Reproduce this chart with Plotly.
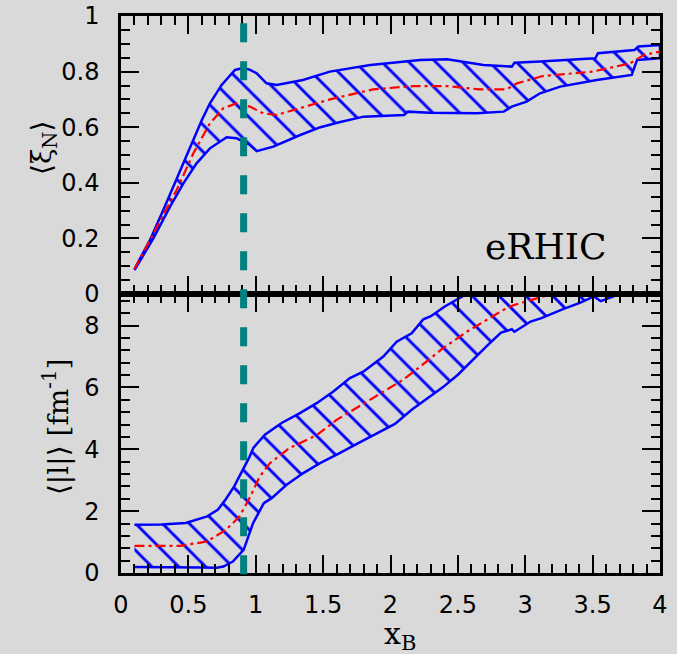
import plotly.graph_objects as go

# ---------------- data ----------------
# top panel: <xi_N> band
xi_up_x = [0.10, 0.215, 0.314, 0.40, 0.475, 0.537, 0.60, 0.66, 0.747, 0.846, 0.896, 0.95, 1.007,
           1.08, 1.155, 1.35, 1.55, 1.85, 2.22, 2.42, 2.69, 2.90, 2.92, 3.11, 3.28, 3.52, 3.54,
           3.81, 3.84, 4.00]
xi_up = [0.090, 0.194, 0.302, 0.398, 0.482, 0.554, 0.626, 0.686, 0.752, 0.806, 0.812, 0.808, 0.794,
         0.758, 0.752, 0.770, 0.800, 0.824, 0.842, 0.844, 0.824, 0.818, 0.832, 0.836, 0.842, 0.848,
         0.866, 0.878, 0.890, 0.896]
xi_lo_x = [0.10, 0.24, 0.364, 0.463, 0.561, 0.66, 0.784, 0.858, 0.957, 1.007, 1.13, 1.33, 1.48,
           1.62, 1.80, 2.10, 2.13, 2.29, 2.64, 2.84, 2.90, 3.01, 3.11, 3.26, 3.53, 3.79, 3.83, 4.00]
xi_lo = [0.086, 0.200, 0.314, 0.398, 0.470, 0.524, 0.564, 0.560, 0.536, 0.514, 0.530, 0.572, 0.600,
         0.618, 0.638, 0.644, 0.656, 0.652, 0.650, 0.656, 0.674, 0.692, 0.722, 0.746, 0.770, 0.788,
         0.842, 0.848]
xi_mid_x = [0.10, 0.265, 0.413, 0.537, 0.66, 0.759, 0.858, 0.957, 1.056, 1.155, 1.33, 1.55, 1.87,
            2.17, 2.42, 2.66, 2.86, 2.94, 3.13, 3.50, 3.78, 3.88, 4.00]
xi_mid = [0.090, 0.242, 0.374, 0.506, 0.614, 0.668, 0.686, 0.674, 0.650, 0.644, 0.668, 0.700,
          0.736, 0.748, 0.748, 0.736, 0.736, 0.758, 0.784, 0.800, 0.830, 0.860, 0.872]

# bottom panel: <|l|> [fm^-1] band
l_up_x = [0.10, 0.30, 0.48, 0.64, 0.72, 0.78, 0.84, 0.89, 0.95, 0.982, 1.068, 1.192, 1.328, 1.452,
          1.576, 1.699, 1.798, 1.947, 2.046, 2.157, 2.243, 2.30, 2.40, 2.54, 2.70, 3.00, 3.50, 4.00]
l_up = [1.56, 1.57, 1.615, 1.83, 2.05, 2.40, 2.80, 3.20, 3.72, 4.04, 4.47, 4.85, 5.17, 5.49,
        5.87, 6.30, 6.51, 7.00, 7.48, 7.75, 8.20, 8.30, 8.61, 8.96, 9.40, 10.0, 10.6, 11.0]
l_lo_x = [0.10, 0.59, 0.71, 0.76, 0.83, 0.91, 0.98, 1.06, 1.118, 1.229, 1.353, 1.477, 1.612, 1.761,
          1.898, 2.033, 2.157, 2.293, 2.39, 2.50, 2.61, 2.71, 2.82, 2.90, 2.92, 3.04, 3.12, 3.28,
          3.41, 3.51, 3.56, 3.60, 3.69, 4.00]
l_lo = [0.19, 0.18, 0.17, 0.21, 0.37, 0.75, 1.61, 2.26, 2.42, 2.85, 3.23, 3.55, 3.85, 4.20,
        4.52, 4.82, 5.28, 5.71, 6.01, 6.41, 6.89, 7.32, 7.77, 7.88, 7.80, 8.13, 8.24, 8.53,
        8.74, 8.94, 8.79, 8.85, 9.00, 9.50]
l_mid_x = [0.10, 0.44, 0.64, 0.78, 0.88, 0.957, 1.03, 1.105, 1.25, 1.328, 1.45, 1.60, 1.848, 2.095,
           2.243, 2.39, 2.57, 2.71, 2.84, 2.92, 3.18, 3.60, 4.00]
l_mid = [0.88, 0.88, 1.02, 1.40, 1.83, 2.45, 3.12, 3.55, 4.04, 4.20, 4.45, 4.95, 5.60, 6.25,
         6.75, 7.27, 7.81, 8.18, 8.51, 8.67, 9.00, 9.60, 10.0]

x_ref_line = 0.91
panel_label = "eRHIC"

# ---------------- styles ----------------
BLUE = "#0000ff"
RED = "#ff0000"
TEAL = "#00807f"
BG = "#d9d9d9"
SERIF = "DejaVu Serif"
SANS = "DejaVu Sans"

fig = go.Figure()


def band(xu, yu, xl, yl, xa, ya):
    fig.add_trace(go.Scatter(
        x=xu + xl[::-1], y=yu + yl[::-1], xaxis=xa, yaxis=ya,
        mode="lines", fill="toself", fillcolor="rgba(0,0,0,0)",
        line=dict(color=BLUE, width=2.5),
        fillpattern=dict(shape="\\", fgcolor=BLUE, fgopacity=1, bgcolor="rgba(0,0,0,0)",
                         size=19, solidity=0.15),
        showlegend=False, hoverinfo="skip"))


def mid(x, y, xa, ya):
    fig.add_trace(go.Scatter(
        x=x, y=y, xaxis=xa, yaxis=ya, mode="lines",
        line=dict(color=RED, width=2.2, dash="10px,4px,3px,4px"),
        showlegend=False, hoverinfo="skip"))


band(xi_up_x, xi_up, xi_lo_x, xi_lo, "x2", "y2")
mid(xi_mid_x, xi_mid, "x2", "y2")
band(l_up_x, l_up, l_lo_x, l_lo, "x", "y")
mid(l_mid_x, l_mid, "x", "y")

common = dict(showline=True, linecolor="black", linewidth=2.5, mirror="allticks",
              ticks="inside", ticklen=18, tickwidth=2, tickcolor="black",
              showgrid=False, zeroline=False, automargin=False,
              tickfont=dict(family=SANS, size=24, color="black"))
minor_common = dict(ticks="inside", ticklen=9, tickwidth=2, tickcolor="black")

split = 279 / 557

fig.update_layout(
    width=677, height=654,
    margin=dict(l=121, r=17, t=16, b=81),
    paper_bgcolor=BG, plot_bgcolor=BG,
    xaxis=dict(domain=[0, 1], anchor="y", range=[0, 4], tick0=0, dtick=0.5,
               minor=dict(dtick=0.1, **minor_common), ticklabelstandoff=8, **common),
    xaxis2=dict(domain=[0, 1], anchor="y2", range=[0, 4], tick0=0, dtick=0.5, matches="x",
                showticklabels=False, minor=dict(dtick=0.1, **minor_common), **common),
    yaxis=dict(domain=[0, split], anchor="x", range=[0, 9.02], tick0=0, dtick=2,
               minor=dict(dtick=0.4, **minor_common), ticklabelstandoff=14, **common),
    yaxis2=dict(domain=[split, 1], anchor="x2", range=[0, 1], tick0=0, dtick=0.2,
                minor=dict(dtick=0.05, **minor_common), ticklabelstandoff=14, **common),
)

# vertical dashed reference line spanning both panels
fig.add_shape(type="line", xref="x", yref="paper", x0=x_ref_line, x1=x_ref_line,
              y0=0.9869, y1=-0.0095, layer="above",
              line=dict(color=TEAL, width=7, dash="19px,19px"))

fig.add_annotation(x=3.154, y=0.17, xref="x2", yref="y2", text=panel_label, showarrow=False,
                   font=dict(family=SERIF, size=36, color="black"), xanchor="center", yanchor="middle")

# axis titles
fig.add_annotation(x=0.5176, y=-0.074, xref="paper", yref="paper", text="x<sub>B</sub>",
                   showarrow=False, font=dict(family=SERIF, size=30, color="black"),
                   xanchor="center", yanchor="top")
fig.add_annotation(x=-0.1447, y=0.763, xref="paper", yref="paper", text="⟨ξ<sub>N</sub>⟩",
                   showarrow=False, textangle=-90, font=dict(family=SERIF, size=28, color="black"),
                   xanchor="center", yanchor="middle")
fig.add_annotation(x=-0.1206, y=0.262, xref="paper", yref="paper",
                   text="⟨|l|⟩ [fm<sup>-1</sup>]",
                   showarrow=False, textangle=-90, font=dict(family=SERIF, size=28, color="black"),
                   xanchor="center", yanchor="middle")

fig.write_html("out.html")
